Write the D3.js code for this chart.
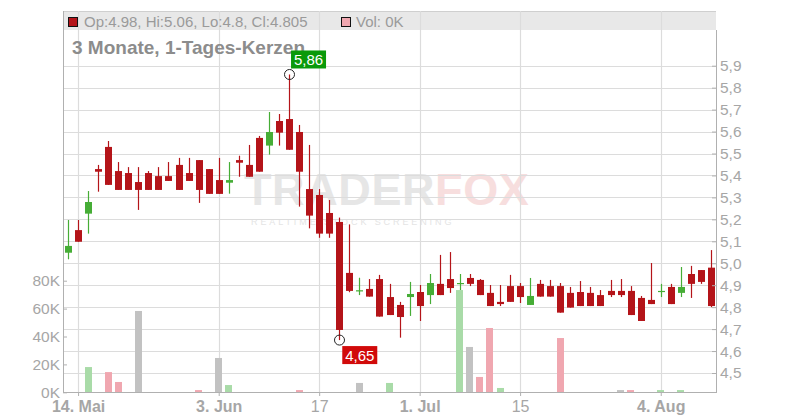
<!DOCTYPE html>
<html><head><meta charset="utf-8">
<script src="https://cdn.jsdelivr.net/npm/d3@7"></script>
<style>body{margin:0;background:#fff}svg{display:block;font-family:"Liberation Sans",Arial,sans-serif}</style>
</head><body><svg id="c" width="800" height="420"></svg>
<script>
// ---- data ----
const dates = ["2025-05-13","2025-05-14","2025-05-15","2025-05-16","2025-05-19","2025-05-20","2025-05-21","2025-05-22","2025-05-23","2025-05-26","2025-05-27","2025-05-28","2025-05-29","2025-05-30",
"2025-06-02","2025-06-03","2025-06-04","2025-06-05","2025-06-06","2025-06-09","2025-06-10","2025-06-11","2025-06-12","2025-06-13","2025-06-16","2025-06-17","2025-06-18","2025-06-19","2025-06-20","2025-06-23","2025-06-24","2025-06-25","2025-06-26","2025-06-27","2025-06-30",
"2025-07-01","2025-07-02","2025-07-03","2025-07-04","2025-07-07","2025-07-08","2025-07-09","2025-07-10","2025-07-11","2025-07-14","2025-07-15","2025-07-16","2025-07-17","2025-07-18","2025-07-21","2025-07-22","2025-07-23","2025-07-24","2025-07-25","2025-07-28","2025-07-29","2025-07-30","2025-07-31",
"2025-08-01","2025-08-04","2025-08-05","2025-08-06","2025-08-07","2025-08-08","2025-08-11"];
const open  = [5.048,5.151,5.226,5.429,5.530,5.420,5.411,5.370,5.411,5.397,5.397,5.448,5.411,5.470,5.429,5.379,5.367,5.470,5.448,5.571,5.536,5.648,5.657,5.598,5.338,5.311,5.229,5.188,4.956,4.873,4.883,4.928,4.846,4.810,4.846,4.869,4.855,4.906,4.928,4.906,4.933,4.924,4.865,4.824,4.896,4.896,4.810,4.906,4.896,4.896,4.865,4.869,4.865,4.855,4.874,4.874,4.874,4.842,4.833,4.869,4.892,4.865,4.951,4.969,4.98];
const high  = [5.197,5.197,5.329,5.448,5.557,5.461,5.438,5.438,5.420,5.438,5.461,5.480,5.480,5.470,5.429,5.480,5.461,5.490,5.539,5.580,5.689,5.680,5.860,5.630,5.539,5.338,5.288,5.208,5.177,4.934,4.928,4.947,4.906,4.824,4.915,4.901,4.951,5.038,5.051,4.951,4.951,4.928,4.901,4.901,4.947,4.910,4.933,4.924,4.924,4.910,4.892,4.919,4.892,4.878,4.924,4.928,4.896,4.851,5.001,4.906,4.906,4.983,4.988,4.969,5.06];
const low   = [5.018,5.098,5.135,5.326,5.357,5.334,5.334,5.243,5.334,5.334,5.375,5.334,5.375,5.275,5.316,5.316,5.317,5.394,5.394,5.417,5.495,5.536,5.517,5.258,5.159,5.116,5.116,4.650,4.868,4.855,4.848,4.757,4.764,4.661,4.760,4.737,4.814,4.855,4.865,4.878,4.896,4.855,4.805,4.805,4.824,4.819,4.810,4.848,4.848,4.775,4.798,4.805,4.805,4.805,4.846,4.846,4.764,4.737,4.814,4.846,4.814,4.846,4.842,4.906,4.8];
const close = [5.079,5.098,5.279,5.417,5.357,5.334,5.334,5.334,5.334,5.334,5.375,5.334,5.375,5.334,5.316,5.316,5.379,5.458,5.394,5.417,5.598,5.595,5.517,5.417,5.217,5.135,5.135,4.696,4.874,4.877,4.848,4.757,4.764,4.755,4.860,4.805,4.910,4.855,4.887,4.910,4.906,4.855,4.805,4.814,4.824,4.846,4.851,4.848,4.848,4.775,4.798,4.805,4.805,4.805,4.855,4.855,4.764,4.737,4.814,4.874,4.814,4.892,4.906,4.915,4.805];
// volume in thousands, and its colour class (u = up, d = down, n = neutral)
const volume = [0,0,18.1,0,14.5,7.4,0,58.3,0,0,0,0,0,1.6,0,24.6,5.2,0,0,0,0,0,0,1.6,0,0,0,0,0,6.7,0,0,6.7,0,0,0,0,0,0,73.3,32.5,11.0,46.1,3.1,0,0,0,0,0,38.9,0,0,0,0,0,1.6,1.6,0,0,1.6,0,1.6,0,0,0];
const volKind = ["n","n","u","n","d","d","n","n","n","n","n","n","n","d","n","n","u","n","n","n","n","n","n","d","n","n","n","n","n","n","n","n","u","n","n","n","n","n","n","u","n","d","d","u","n","n","n","n","n","d","n","n","n","n","n","n","d","n","n","u","n","u","n","n","n"];
const priceTicks = [4.5,4.6,4.7,4.8,4.9,5.0,5.1,5.2,5.3,5.4,5.5,5.6,5.7,5.8,5.9];
const volTicks = [0,20,40,60,80];
const xTickDates = ["2025-05-14","2025-06-03","2025-06-17","2025-07-01","2025-07-15","2025-08-04"];
const xTickLabels = ["14. Mai","3. Jun","17","1. Jul","15","4. Aug"];
const xTickBold = [true,true,false,true,false,true];
const title = "3 Monate, 1-Tages-Kerzen";
const maxLabel = "5,86", minLabel = "4,65";

// ---- chart ----
const svg = d3.select("#c");
const L=63, R=716, T=11, B=392;
const x = d3.scaleLinear().domain([-0.5, dates.length-0.5]).range([L,R]);
const y = d3.scaleLinear().domain([4.5,5.9]).range([373,65.7]);
const yv = d3.scaleLinear().domain([0,80]).range([392.3,280.7]);
const RED="#b41419", GREEN="#46ad36", GRID="#dcdcdc", AX="#b0b0b0", TXT="#a6a6a6";
const volColor = {u:"#a9dba8", d:"#f0a7b0", n:"#c2c2c2"};
const last = dates.length-1;

// header band
svg.append("rect").attr("x",L).attr("y",T).attr("width",R-L).attr("height",19).attr("fill","#e8e8e8");
svg.append("line").attr("x1",L).attr("x2",R).attr("y1",T+0.5).attr("y2",T+0.5).attr("stroke","#cfcfcf");

// watermark
const wm = svg.append("g");
const wt = wm.append("text").attr("x",244).attr("y",205).attr("font-size",45).attr("font-weight","bold").attr("letter-spacing",0.6);
wt.append("tspan").attr("fill","#e6e6e6").text("TRADER");
wt.append("tspan").attr("fill","#f7dede").text("FOX");
wm.append("text").attr("x",251).attr("y",225).attr("font-size",9).attr("letter-spacing",2.9).attr("fill","#e4e4e4").text("REALTIME STOCK SCREENING");

// grid
const tickIdx = xTickDates.map(d=>dates.indexOf(d));
svg.append("g").selectAll("line").data(priceTicks).join("line")
  .attr("x1",L).attr("x2",R).attr("y1",d=>Math.round(y(d))+0.5).attr("y2",d=>Math.round(y(d))+0.5)
  .attr("stroke",GRID).attr("stroke-width",1.2);
svg.append("g").selectAll("line").data(tickIdx).join("line")
  .attr("x1",d=>Math.round(x(d))+0.5).attr("x2",d=>Math.round(x(d))+0.5).attr("y1",T).attr("y2",B)
  .attr("stroke",GRID).attr("stroke-width",1.2);

// header legend
svg.append("rect").attr("x",68.5).attr("y",17.5).attr("width",9).attr("height",9).attr("fill",RED).attr("stroke","#111");
svg.append("text").attr("x",84).attr("y",26.5).attr("font-size",15).attr("fill","#9a9a9a")
  .text(`Op:${open[last]}, Hi:${high[last]}, Lo:${low[last]}, Cl:${close[last]}`);
svg.append("rect").attr("x",341.5).attr("y",17.5).attr("width",9).attr("height",9).attr("fill","#f0a7b0").attr("stroke","#111");
svg.append("text").attr("x",356).attr("y",26.5).attr("font-size",15).attr("fill","#9a9a9a").text(`Vol: ${volume[last]}K`);

// title
svg.append("text").attr("x",72).attr("y",54).attr("font-size",19).attr("font-weight","bold").attr("fill","#8c8c8c").text(title);

// volume bars
const bw = 7;
const vi = d3.range(dates.length).filter(i=>volume[i]>0);
svg.append("g").selectAll("rect").data(vi).join("rect")
  .attr("x",i=>Math.round(x(i)-bw/2)).attr("width",bw)
  .attr("y",i=>yv(volume[i])).attr("height",i=>yv(0)-yv(volume[i]))
  .attr("fill",i=>volColor[volKind[i]]);

// candles
const idx = d3.range(dates.length);
const cg = svg.append("g");
const col = i => close[i] >= open[i] ? GREEN : RED;
cg.selectAll("line").data(idx).join("line")
  .attr("x1",i=>Math.round(x(i))+0.5).attr("x2",i=>Math.round(x(i))+0.5)
  .attr("y1",i=>y(high[i])).attr("y2",i=>y(low[i]))
  .attr("stroke",col).attr("stroke-width",1.2);
cg.selectAll("rect").data(idx).join("rect")
  .attr("x",i=>Math.round(x(i))-3).attr("width",bw)
  .attr("y",i=>y(Math.max(open[i],close[i])))
  .attr("height",i=>Math.max(1.2, Math.abs(y(open[i])-y(close[i]))))
  .attr("fill",col);

// max / min markers
const iMax = d3.maxIndex(high), iMin = d3.minIndex(low);
svg.append("circle").attr("cx",Math.round(x(iMax))+0.5).attr("cy",y(high[iMax])).attr("r",5).attr("fill","none").attr("stroke","#222");
svg.append("rect").attr("x",x(iMax)+2).attr("y",y(high[iMax])-24).attr("width",35).attr("height",18).attr("fill","#0a9a0a");
svg.append("text").attr("x",x(iMax)+19.5).attr("y",y(high[iMax])-9.5).attr("text-anchor","middle").attr("font-size",15).attr("fill","#fff").text(maxLabel);
svg.append("circle").attr("cx",Math.round(x(iMin))+0.5).attr("cy",y(low[iMin])).attr("r",5).attr("fill","none").attr("stroke","#222");
svg.append("rect").attr("x",x(iMin)+3).attr("y",y(low[iMin])+6).attr("width",35).attr("height",18).attr("fill","#d10a0a");
svg.append("text").attr("x",x(iMin)+20.5).attr("y",y(low[iMin])+20.5).attr("text-anchor","middle").attr("font-size",15).attr("fill","#fff").text(minLabel);

// axes
const styleAxis = g => { g.select(".domain").remove(); g.selectAll(".tick line").attr("stroke",AX); g.selectAll("text").attr("fill",TXT).attr("font-family",'"Liberation Sans",Arial,sans-serif'); };
svg.append("g").attr("transform",`translate(${R},0)`)
  .call(d3.axisRight(y).tickValues(priceTicks).tickFormat(d=>d.toFixed(1).replace(".",",")).tickSize(-4).tickPadding(4))
  .call(styleAxis).call(g=>g.selectAll("text").attr("font-size",15.5));
svg.append("g").attr("transform",`translate(${L},0)`)
  .call(d3.axisLeft(yv).tickValues(volTicks).tickFormat(d=>d+"K").tickSize(-4).tickPadding(3))
  .call(styleAxis).call(g=>g.selectAll("text").attr("font-size",15.5));
svg.append("g").attr("transform",`translate(0,${B})`)
  .call(d3.axisBottom(x).tickValues(tickIdx).tickFormat((d,k)=>xTickLabels[k]).tickSize(4).tickPadding(4.5))
  .call(styleAxis).call(g=>g.selectAll("text").attr("font-size",16).attr("font-weight",(d,k)=>xTickBold[k]?"bold":"normal"));

// frame lines
svg.append("line").attr("x1",L+0.5).attr("x2",L+0.5).attr("y1",T).attr("y2",B).attr("stroke",AX);
svg.append("line").attr("x1",R+0.5).attr("x2",R+0.5).attr("y1",T+19).attr("y2",B).attr("stroke",AX);
svg.append("line").attr("x1",L).attr("x2",R+1).attr("y1",B+0.5).attr("y2",B+0.5).attr("stroke",AX);
</script></body></html>
